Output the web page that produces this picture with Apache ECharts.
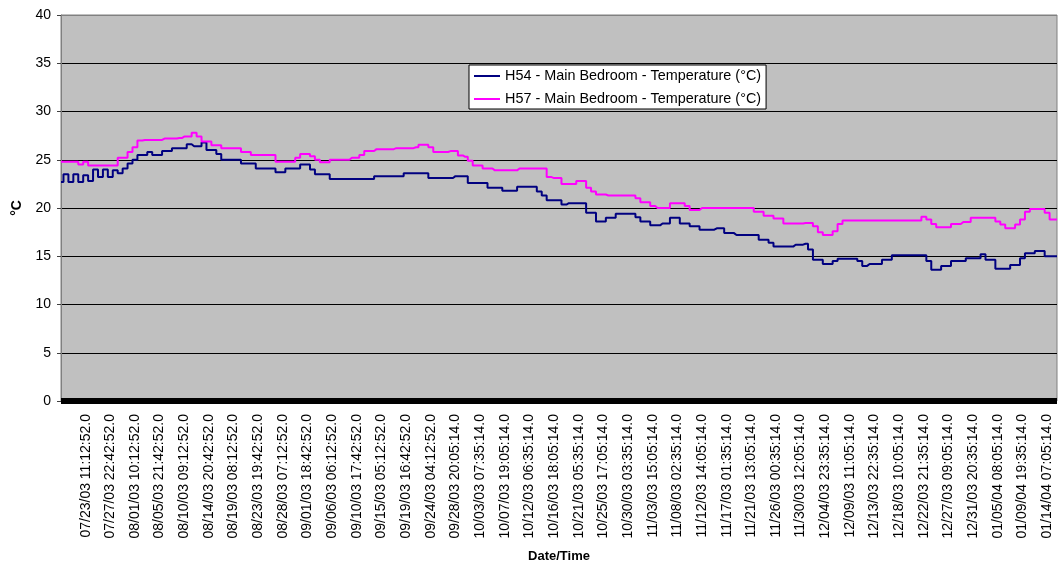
<!DOCTYPE html>
<html>
<head>
<meta charset="utf-8">
<script src="https://cdn.jsdelivr.net/npm/echarts@6/dist/echarts.min.js"></script>
<style>
  html, body { margin: 0; padding: 0; background: #fff; }
  #chart { width: 1060px; height: 562px; }
</style>
</head>
<body>
<div id="chart"></div>
<script>
// tick labels shown on the category axis, one every SAMPLES_PER_LABEL samples
const TICK_LABELS = [
  "07/23/03 11:12:52.0", "07/27/03 22:42:52.0", "08/01/03 10:12:52.0", "08/05/03 21:42:52.0",
  "08/10/03 09:12:52.0", "08/14/03 20:42:52.0", "08/19/03 08:12:52.0", "08/23/03 19:42:52.0",
  "08/28/03 07:12:52.0", "09/01/03 18:42:52.0", "09/06/03 06:12:52.0", "09/10/03 17:42:52.0",
  "09/15/03 05:12:52.0", "09/19/03 16:42:52.0", "09/24/03 04:12:52.0", "09/28/03 20:05:14.0",
  "10/03/03 07:35:14.0", "10/07/03 19:05:14.0", "10/12/03 06:35:14.0", "10/16/03 18:05:14.0",
  "10/21/03 05:35:14.0", "10/25/03 17:05:14.0", "10/30/03 03:35:14.0", "11/03/03 15:05:14.0",
  "11/08/03 02:35:14.0", "11/12/03 14:05:14.0", "11/17/03 01:35:14.0", "11/21/03 13:05:14.0",
  "11/26/03 00:35:14.0", "11/30/03 12:05:14.0", "12/04/03 23:35:14.0", "12/09/03 11:05:14.0",
  "12/13/03 22:35:14.0", "12/18/03 10:05:14.0", "12/22/03 21:35:14.0", "12/27/03 09:05:14.0",
  "12/31/03 20:35:14.0", "01/05/04 08:05:14.0", "01/09/04 19:35:14.0", "01/14/04 07:05:14.0"
];
const FIRST_LABEL_INDEX = 5;
const SAMPLES_PER_LABEL = 5;

const SERIES_NAMES = [
  "H54 - Main Bedroom - Temperature (°C)",
  "H57 - Main Bedroom - Temperature (°C)"
];

// H54 readings (°C)
const H54_TEMPS = [
  22.7, 23.5, 22.7, 23.5, 22.7, 23.4, 22.8, 24.0, 23.2, 24.0,
  23.2, 23.9, 23.6, 24.1, 24.6, 25.0, 25.5, 25.5, 25.8, 25.5,
  25.5, 25.9, 25.9, 26.2, 26.2, 26.2, 26.6, 26.4, 26.4, 26.8,
  26.0, 26.0, 25.6, 25.0, 25.0, 25.0, 25.0, 24.6, 24.6, 24.6,
  24.1, 24.1, 24.1, 24.1, 23.7, 23.7, 24.1, 24.1, 24.1, 24.5,
  24.5, 24.0, 23.5, 23.5, 23.5, 23.0, 23.0, 23.0, 23.0, 23.0,
  23.0, 23.0, 23.0, 23.0, 23.3, 23.3, 23.3, 23.3, 23.3, 23.3,
  23.6, 23.6, 23.6, 23.6, 23.6, 23.1, 23.1, 23.1, 23.1, 23.1,
  23.3, 23.3, 23.3, 22.6, 22.6, 22.6, 22.6, 22.1, 22.1, 22.1,
  21.8, 21.8, 21.8, 22.2, 22.2, 22.2, 22.2, 21.7, 21.3, 20.8,
  20.8, 20.8, 20.35, 20.5, 20.5, 20.5, 20.5, 19.5, 19.5, 18.6,
  18.6, 19.0, 19.0, 19.4, 19.4, 19.4, 19.4, 19.05, 18.6, 18.6,
  18.2, 18.2, 18.4, 18.4, 19.0, 19.0, 18.4, 18.4, 18.1, 18.1,
  17.75, 17.75, 17.75, 17.9, 17.9, 17.4, 17.4, 17.2, 17.2, 17.2,
  17.2, 17.2, 16.7, 16.7, 16.4, 16.0, 16.0, 16.0, 16.0, 16.2,
  16.2, 16.3, 15.7, 14.65, 14.65, 14.2, 14.2, 14.5, 14.75, 14.75,
  14.75, 14.75, 14.5, 14.0, 14.2, 14.2, 14.2, 14.65, 14.65, 15.1,
  15.1, 15.1, 15.1, 15.1, 15.1, 15.1, 14.5, 13.6, 13.6, 14.0,
  14.0, 14.5, 14.5, 14.5, 14.8, 14.8, 14.8, 15.2, 14.65, 14.65,
  13.7, 13.7, 13.7, 14.1, 14.1, 14.8, 15.3, 15.3, 15.55, 15.55,
  15.0, 15.0, 15.0
];

// H57 readings (°C)
const H57_TEMPS = [
  24.8, 24.8, 24.8, 24.8, 24.5, 24.8, 24.4, 24.4, 24.4, 24.4,
  24.4, 24.4, 25.2, 25.2, 25.8, 26.3, 27.0, 27.05, 27.05, 27.05,
  27.05, 27.2, 27.2, 27.2, 27.25, 27.4, 27.4, 27.8, 27.4, 26.9,
  26.9, 26.5, 26.5, 26.2, 26.2, 26.2, 26.2, 25.8, 25.8, 25.5,
  25.5, 25.5, 25.5, 25.5, 24.8, 24.8, 24.8, 24.8, 25.2, 25.6,
  25.6, 25.35, 25.0, 24.75, 24.75, 25.0, 25.0, 25.0, 25.0, 25.2,
  25.2, 25.5, 25.9, 25.9, 26.1, 26.1, 26.1, 26.1, 26.2, 26.2,
  26.2, 26.2, 26.3, 26.55, 26.55, 26.3, 25.8, 25.8, 25.8, 25.9,
  25.9, 25.45, 25.3, 24.9, 24.4, 24.4, 24.1, 24.1, 23.9, 23.9,
  23.9, 23.9, 23.9, 24.1, 24.1, 24.1, 24.1, 24.1, 24.1, 23.2,
  23.1, 23.1, 22.5, 22.5, 22.5, 22.8, 22.8, 22.1, 21.7, 21.4,
  21.4, 21.3, 21.3, 21.3, 21.3, 21.3, 21.3, 21.0, 20.6, 20.6,
  20.2, 20.0, 20.0, 20.0, 20.5, 20.5, 20.5, 20.2, 19.8, 19.8,
  20.0, 20.0, 20.0, 20.0, 20.0, 20.0, 20.0, 20.0, 20.0, 20.0,
  20.0, 19.6, 19.6, 19.2, 19.2, 18.9, 18.9, 18.4, 18.4, 18.4,
  18.4, 18.45, 18.45, 18.1, 17.5, 17.2, 17.2, 17.6, 18.35, 18.7,
  18.7, 18.7, 18.7, 18.7, 18.7, 18.7, 18.7, 18.7, 18.7, 18.7,
  18.7, 18.7, 18.7, 18.7, 18.7, 19.1, 18.8, 18.35, 18.0, 18.0,
  18.0, 18.35, 18.35, 18.55, 18.55, 19.0, 19.0, 19.0, 19.0, 19.0,
  18.6, 18.3, 17.9, 17.9, 18.3, 18.8, 19.6, 19.9, 19.9, 19.9,
  19.5, 18.8, 18.8
];

const Y_MIN = 0;
const Y_MAX = 40;
const Y_STEP = 5;

const FONT = "'Liberation Sans', Arial, sans-serif";

// one category per sample; only every SAMPLES_PER_LABEL-th one carries a label
const categories = H54_TEMPS.map((_, i) => {
  const k = (i - FIRST_LABEL_INDEX) / SAMPLES_PER_LABEL;
  return Number.isInteger(k) && k >= 0 && k < TICK_LABELS.length ? TICK_LABELS[k] : "";
});

const gridColors = [];
for (let v = Y_MIN; v <= Y_MAX; v += Y_STEP) gridColors.push(v === Y_MAX ? "#808080" : "#000000");

const chart = echarts.init(document.getElementById("chart"), null, { renderer: "canvas" });

chart.setOption({
  animation: false,
  color: ["#000080", "#ff00ff"],
  textStyle: { fontFamily: FONT },
  grid: {
    left: 61, right: 3, top: 15, bottom: 161,
    outerBoundsMode: "none",
    containLabel: false,
    show: true,
    backgroundColor: "#c0c0c0",
    borderColor: "#808080",
    borderWidth: 1
  },
  legend: {
    orient: "vertical",
    left: 469,
    top: 65,
    icon: "rect",
    itemWidth: 26,
    itemHeight: 2,
    itemGap: 9,
    backgroundColor: "#ffffff",
    borderColor: "#000000",
    borderWidth: 1,
    borderRadius: 0,
    padding: [4, 5, 3, 5],
    textStyle: { fontFamily: FONT, fontSize: 14.4, lineHeight: 14, color: "#000" },
    data: SERIES_NAMES
  },
  xAxis: {
    type: "category",
    data: categories,
    boundaryGap: false,
    offset: 3,
    axisLine: { lineStyle: { color: "#000", width: 6, cap: "butt" } },
    axisTick: { show: false },
    splitLine: { show: false },
    axisLabel: {
      interval: (i) => categories[i] !== "",
      rotate: 90,
      margin: 10,
      fontFamily: FONT,
      fontSize: 14,
      color: "#000"
    },
    name: "Date/Time",
    nameLocation: "middle",
    nameGap: 146,
    nameTextStyle: { fontFamily: FONT, fontSize: 13, fontWeight: "bold", color: "#000" }
  },
  yAxis: {
    type: "value",
    min: Y_MIN,
    max: Y_MAX,
    interval: Y_STEP,
    axisLine: { show: true, lineStyle: { color: "#808080", width: 1 } },
    axisTick: { show: true, length: 4, lineStyle: { color: "#404040" } },
    splitLine: { show: true, lineStyle: { color: gridColors, width: 1 } },
    axisLabel: { margin: 10, fontFamily: FONT, fontSize: 14, color: "#000" },
    name: "°C",
    nameLocation: "middle",
    nameGap: 33,
    nameRotate: 90,
    nameTextStyle: { fontFamily: FONT, fontSize: 14, fontWeight: "bold", color: "#000" }
  },
  series: [
    {
      name: SERIES_NAMES[0],
      type: "line",
      step: "middle",
      symbol: "none",
      data: H54_TEMPS,
      lineStyle: { width: 2, color: "#000080" }
    },
    {
      name: SERIES_NAMES[1],
      type: "line",
      step: "middle",
      symbol: "none",
      data: H57_TEMPS,
      lineStyle: { width: 2, color: "#ff00ff" }
    }
  ]
});
</script>
</body>
</html>
